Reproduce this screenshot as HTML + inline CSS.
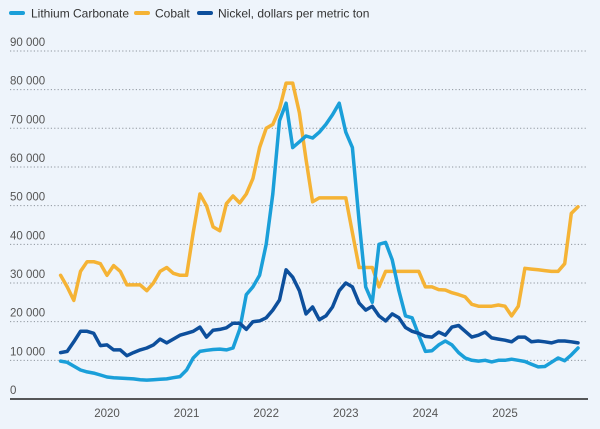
<!DOCTYPE html>
<html><head><meta charset="utf-8"><style>
body{margin:0;background:#eef4fb;}
svg{display:block;font-family:"Liberation Sans",sans-serif;}
</style></head><body>
<svg width="600" height="429">
<rect width="600" height="429" fill="#eef4fb"/>
<g id="legend">
<g><rect x="9" y="11" width="16" height="4" rx="2" fill="#1a9fd9"/><text x="31" y="17.5" font-size="12" fill="#333">Lithium Carbonate</text></g>
<g><rect x="134" y="11" width="16" height="4" rx="2" fill="#f5b335"/><text x="155" y="17.5" font-size="12" fill="#333">Cobalt</text></g>
<g><rect x="197" y="11" width="16" height="4" rx="2" fill="#0d4f9c"/><text x="218" y="17.5" font-size="12" fill="#333">Nickel, dollars per metric ton</text></g>
</g>
<g id="grid"></g>
<g id="series"></g>
<g id="xaxis"></g>
</svg>
<script>
const yTicks=[0,10,20,30,40,50,60,70,80,90];
const yTickLabels=["0","10 000","20 000","30 000","40 000","50 000","60 000","70 000","80 000","90 000"];
const xYears=[2020,2021,2022,2023,2024,2025];
const startYear=2019, startMonth=5; // June 2019
const lithium=[9.8,9.5,8.5,7.5,7,6.7,6.2,
5.7,5.5,5.4,5.3,5.2,5,4.9,5,5.1,5.2,5.5,5.8,
7.5,10.6,12.3,12.6,12.8,12.9,12.7,13.2,18,27,29,32,
40,53,72,76.5,65,66.5,68,67.5,69,71,73.5,76.5,
69,65,46,29,25,40,40.5,36,28,21.5,21,16.5,
12.3,12.5,14,15,14,12,10.6,10,9.8,10,9.6,10,
10,10.3,10,9.7,9,8.3,8.4,9.5,10.6,9.9,11.4,13.2];
const cobalt=[32,29,25.5,33,35.5,35.5,35,
32,34.5,33,29.5,29.5,29.5,28,30,33,34,32.5,32,
32,43,53,50,44.5,43.5,50.5,52.5,50.7,53,57,65,
70,71,75,81.7,81.7,74,62,51,52,52,52,52,
52,43,34,34,34,29,33,33,33,33,33,33,
29,29,28.3,28.2,27.5,27,26.4,24.5,24,24,24,24.3,
24,21.5,24,33.8,33.6,33.4,33.2,33,33,35,48,49.7];
const nickel=[12,12.3,14.8,17.5,17.5,17,13.8,
14,12.7,12.7,11.2,12,12.7,13.2,14,15.5,14.5,15.5,16.5,
17,17.5,18.6,16,17.8,18,18.4,19.6,19.6,18,20,20.2,
21,23,25.6,33.4,31.5,28,22,23.8,20.5,21.5,23.8,28,
30,29,24.8,23,24,21.5,20.2,22,21,18.5,17.5,17,
16.2,16,17.3,16.5,18.6,19,17.5,16,16.5,17.3,15.8,15.5,
15.2,14.8,16,16,14.8,15,14.8,14.5,15,15,14.8,14.5];
const NS="http://www.w3.org/2000/svg";
const y0=399, yPer=3.867; // px per thousand
const xJan2020=107, xPerYear=79.6;
function yScale(v){return y0-v*yPer;}
function xScale(year,month){return xJan2020+(year-2020+month/12)*xPerYear;}
function xIdx(i){const m=startMonth+i;return xScale(startYear+Math.floor(m/12),m%12);}
const grid=document.getElementById('grid');
yTicks.forEach((t,i)=>{
  const y=yScale(t);
  if(t>0){const l=document.createElementNS(NS,'line');
  
  
  l.setAttribute('x1',10);l.setAttribute('x2',588);l.setAttribute('y1',y);l.setAttribute('y2',y);
  l.setAttribute('stroke','#8f969e');l.setAttribute('stroke-width','1');l.setAttribute('stroke-dasharray','1.2 2.2');
  grid.appendChild(l);}
  const tx=document.createElementNS(NS,'text');
  
  
  tx.setAttribute('x',10);tx.setAttribute('y',y-5);tx.setAttribute('font-size','11.5');tx.setAttribute('fill','#555');
  tx.textContent=yTickLabels[i];grid.appendChild(tx);
});
const xa=document.getElementById('xaxis');
const ax=document.createElementNS(NS,'line');


ax.setAttribute('x1',10);ax.setAttribute('x2',588);ax.setAttribute('y1',y0);ax.setAttribute('y2',y0);
ax.setAttribute('stroke','#222');ax.setAttribute('stroke-width','1.5');xa.appendChild(ax);
xYears.forEach(yr=>{
  const t=document.createElementNS(NS,'text');
  
  
  t.setAttribute('x',xScale(yr,0));t.setAttribute('y',417);t.setAttribute('font-size','11.5');
  t.setAttribute('fill','#555');t.setAttribute('text-anchor','middle');t.textContent=yr;xa.appendChild(t);
});
const ser=document.getElementById('series');
function drawLine(arr,color,name){
  const p=document.createElementNS(NS,'polyline');
  
  
  p.setAttribute('points',arr.map((v,i)=>xIdx(i).toFixed(1)+','+yScale(v).toFixed(1)).join(' '));
  p.setAttribute('fill','none');p.setAttribute('stroke',color);p.setAttribute('stroke-width','3.5');
  p.setAttribute('stroke-linejoin','round');p.setAttribute('stroke-linecap','round');
  ser.appendChild(p);
}
drawLine(cobalt,'#f5b335','cobalt-line');
drawLine(lithium,'#1a9fd9','lithium-line');
drawLine(nickel,'#0d4f9c','nickel-line');
</script>
</body></html>
